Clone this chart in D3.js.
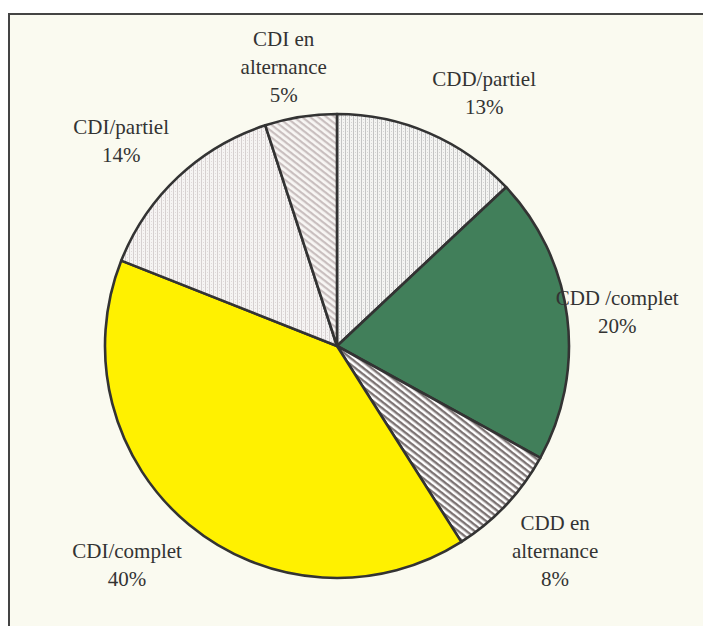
<!DOCTYPE html>
<html>
<head>
<meta charset="utf-8">
<script src="https://cdn.jsdelivr.net/npm/d3@7"></script>
<style>
  html, body { margin: 0; padding: 0; background: #ffffff; }
  svg { display: block; }
</style>
</head>
<body>
<div id="chart"></div>
<script>
// Répartition des contrats (part en %)
const categories = ["CDD/partiel", "CDD /complet", "CDD en alternance", "CDI/complet", "CDI/partiel", "CDI en alternance"];
const values = [13, 20, 8, 40, 14, 5];
// Libellés affichés, une ligne par élément
const labelLines = [
  ["CDD/partiel", "13%"],
  ["CDD /complet", "20%"],
  ["CDD en", "alternance", "8%"],
  ["CDI/complet", "40%"],
  ["CDI/partiel", "14%"],
  ["CDI en", "alternance", "5%"]
];
const fills = ["url(#dotsA)", "#417f5a", "url(#stripesDark)", "#fff100", "url(#dotsB)", "url(#stripesLight)"];

const W = 703, H = 626;
const cx = 337, cy = 346, R = 232;

const svg = d3.select("#chart").append("svg")
  .attr("width", W).attr("height", H);

const defs = svg.append("defs");

// trame pointillée (gris neutre)
const pA = defs.append("pattern").attr("id", "dotsA")
  .attr("patternUnits", "userSpaceOnUse").attr("width", 4).attr("height", 3);
pA.append("rect").attr("width", 4).attr("height", 3).attr("fill", "#f4f4f2");
pA.append("rect").attr("x", 0).attr("y", 0).attr("width", 1).attr("height", 3).attr("fill", "#c4c4c4");
pA.append("rect").attr("x", 2).attr("y", 1).attr("width", 1).attr("height", 1).attr("fill", "#d4d4d4");

// trame pointillée (gris rosé, plus claire)
const pB = defs.append("pattern").attr("id", "dotsB")
  .attr("patternUnits", "userSpaceOnUse").attr("width", 4).attr("height", 3);
pB.append("rect").attr("width", 4).attr("height", 3).attr("fill", "#f6f4f3");
pB.append("rect").attr("x", 0).attr("y", 0).attr("width", 1).attr("height", 3).attr("fill", "#d6d0d0");
pB.append("rect").attr("x", 2).attr("y", 1).attr("width", 1).attr("height", 1).attr("fill", "#e0dada");

// hachures diagonales foncées
const sD = defs.append("pattern").attr("id", "stripesDark")
  .attr("patternUnits", "userSpaceOnUse").attr("width", 5).attr("height", 5)
  .attr("patternTransform", "rotate(38)");
sD.append("rect").attr("width", 5).attr("height", 5).attr("fill", "#ffffff");
sD.append("rect").attr("width", 5).attr("height", 2.4).attr("fill", "#7d7474");

// hachures diagonales claires
const sL = defs.append("pattern").attr("id", "stripesLight")
  .attr("patternUnits", "userSpaceOnUse").attr("width", 5).attr("height", 5)
  .attr("patternTransform", "rotate(38)");
sL.append("rect").attr("width", 5).attr("height", 5).attr("fill", "#f8f6f4");
sL.append("rect").attr("width", 5).attr("height", 2.2).attr("fill", "#c9bfbf");

// fond et cadre
svg.append("rect").attr("x", 0).attr("y", 0).attr("width", W).attr("height", H).attr("fill", "#ffffff");
svg.append("rect").attr("x", 9).attr("y", 14).attr("width", W + 10).attr("height", H + 10)
  .attr("fill", "#fafaf0").attr("stroke", "#444444").attr("stroke-width", 2);

const pie = d3.pie().sort(null).value(d => d)
  .startAngle(0).endAngle(2 * Math.PI);
const arcs = pie(values);
const arc = d3.arc().innerRadius(0).outerRadius(R);

const g = svg.append("g").attr("transform", `translate(${cx},${cy})`);
g.selectAll("path.slice").data(arcs).enter().append("path")
  .attr("class", "slice")
  .attr("d", arc)
  .attr("fill", (d, i) => fills[i])
  .attr("stroke", "#333333")
  .attr("stroke-width", 2.6)
  .attr("stroke-linejoin", "round");

// décalage de chaque libellé par rapport au milieu de l'arc extérieur
const labelOffset = [[55, -40], [50, -5], [49, 46], [-62, 40], [-57, -36], [-17, -50]];
const lineH = 28;
const labels = svg.append("g")
  .attr("font-family", "'Liberation Serif', 'Times New Roman', serif")
  .attr("font-size", 21)
  .attr("fill", "#333333")
  .attr("text-anchor", "middle");

arcs.forEach((d, i) => {
  const mid = (d.startAngle + d.endAngle) / 2;
  const lx = cx + Math.sin(mid) * R + labelOffset[i][0];
  const ly = cy - Math.cos(mid) * R + labelOffset[i][1];
  const lines = labelLines[i];
  const top = ly - (lines.length - 1) * lineH / 2;
  const t = labels.append("text").attr("x", lx).attr("y", top);
  lines.forEach((ln, k) => {
    t.append("tspan").attr("x", lx).attr("y", top + k * lineH).attr("dy", "0.35em").text(ln);
  });
});
</script>
</body>
</html>
